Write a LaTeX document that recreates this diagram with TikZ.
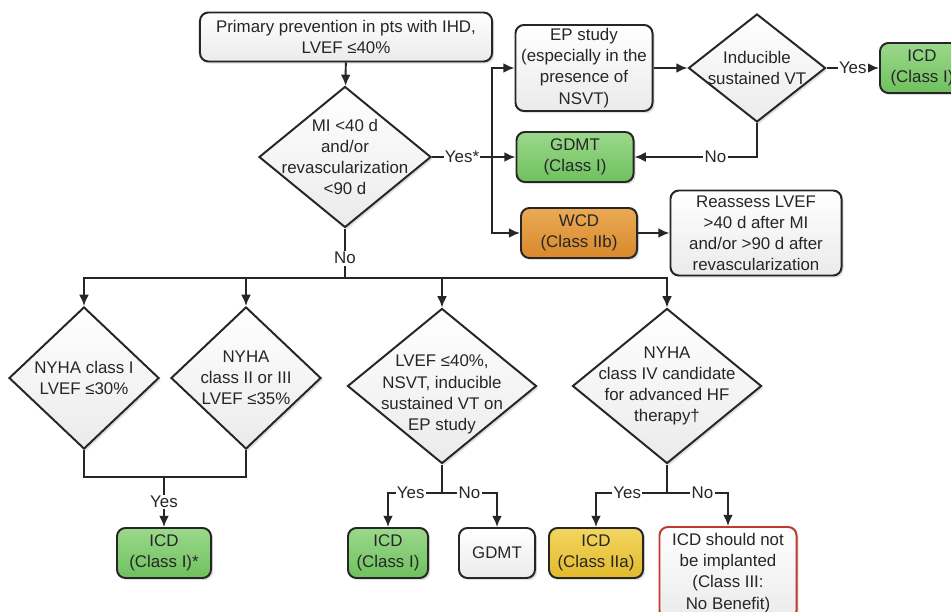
\documentclass[tikz,border=0pt]{standalone}
\usepackage{fontspec}
\setmainfont{Liberation Sans}
\usetikzlibrary{shapes.geometric, arrows.meta, shadows}
\definecolor{grnT}{HTML}{9BD98B}
\definecolor{grnB}{HTML}{6FC05E}
\definecolor{orgT}{HTML}{EBAA55}
\definecolor{orgB}{HTML}{D8892B}
\definecolor{ylwT}{HTML}{F3D661}
\definecolor{ylwB}{HTML}{E2B92B}
\definecolor{redC}{HTML}{BF3A2B}

\begin{document}
\begin{tikzpicture}[x=0.025cm, y=-0.025cm, font=\fontsize{12}{15}\selectfont,
    line width=1.4pt, black!85,
    box/.style={rectangle, rounded corners=6pt, draw, align=center, inner sep=2pt,
        top color=white, bottom color=gray!16,
        drop shadow={opacity=0.25, shadow xshift=1.5pt, shadow yshift=-1.5pt}},
    greenbox/.style={box, top color=grnT, bottom color=grnB},
    orangebox/.style={box, top color=orgT, bottom color=orgB},
    yellowbox/.style={box, top color=ylwT, bottom color=ylwB},
    decision/.style={diamond, draw, inner sep=0pt, top color=white, bottom color=gray!16,
        drop shadow={opacity=0.25, shadow xshift=1.5pt, shadow yshift=-1.5pt}},
    arr/.style={-{Latex[length=8pt,width=7pt]}},
    lbl/.style={fill=white, inner sep=1pt}]
    \useasboundingbox (0,0) rectangle (951,611);

    \node[box, minimum width=7.3cm, minimum height=1.225cm] (prim) at (346,37)
        {Primary prevention in pts with IHD,\\LVEF ≤40\%};
    \node[decision, minimum width=4.3cm, minimum height=3.525cm,
        label={[align=center]center:MI <40 d\\and/or\\revascularization\\<90 d}] (dec1) at (345,157) {};
    \node[box, minimum width=3.425cm, minimum height=2.15cm] (ep) at (584,68)
        {EP study\\(especially in the\\presence of\\NSVT)};
    \node[decision, minimum width=3.425cm, minimum height=2.7cm,
        label={[align=center]center:Inducible\\sustained VT}] (dec2) at (757,68) {};
    \node[greenbox, minimum width=2.1cm, minimum height=1.25cm] (icd1) at (922,68) {ICD\\(Class I)};
    \node[greenbox, minimum width=2.925cm, minimum height=1.25cm] (gdmt1) at (575,157) {GDMT\\(Class I)};
    \node[orangebox, minimum width=2.9cm, minimum height=1.25cm] (wcd) at (579,233) {WCD\\(Class IIb)};
    \node[box, minimum width=4.275cm, minimum height=2.125cm] (reas) at (756,233)
        {Reassess LVEF\\>40 d after MI\\and/or >90 d after\\revascularization};

    \node[decision, minimum width=3.75cm, minimum height=3.55cm,
        label={[align=center]center:NYHA class I\\LVEF ≤30\%}] (dA) at (84,378) {};
    \node[decision, minimum width=3.75cm, minimum height=3.55cm,
        label={[align=center]center:NYHA\\class II or III\\LVEF ≤35\%}] (dB) at (246,378) {};
    \node[decision, minimum width=4.725cm, minimum height=3.875cm,
        label={[align=center, yshift=-6pt]center:LVEF ≤40\%,\\NSVT, inducible\\sustained VT on\\EP study}] (dC) at (442,386) {};
    \node[decision, minimum width=4.725cm, minimum height=3.875cm,
        label={[align=center]center:NYHA\\class IV candidate\\for advanced HF\\therapy†}] (dD) at (667,386) {};

    \node[greenbox, minimum width=2.35cm, minimum height=1.25cm] (icdA) at (164,553) {ICD\\(Class I)*};
    \node[greenbox, minimum width=2cm, minimum height=1.25cm] (icdC) at (388,553) {ICD\\(Class I)};
    \node[box, minimum width=1.9cm, minimum height=1.25cm] (gdmtC) at (497,553) {GDMT};
    \node[yellowbox, minimum width=2.35cm, minimum height=1.25cm] (icdD) at (596,553) {ICD\\(Class IIa)};
    \node[box, draw=redC, minimum width=3.425cm, minimum height=2.3cm] (noicd) at (728,573)
        {ICD should not\\be implanted\\(Class III:\\No Benefit)};

    \coordinate (trunk) at (492,157);
    \coordinate (bus) at (345,278);
    \coordinate (joinAB) at (164,477);
    \coordinate (splitC) at (442,493);
    \coordinate (splitD) at (667,493);

    \draw[arr] (prim) -- (dec1);
    \draw (dec1) -- node[lbl]{Yes*} (trunk);
    \draw[arr] (trunk) |- (ep);
    \draw[arr] (trunk) -- (gdmt1);
    \draw[arr] (trunk) |- (wcd);
    \draw[arr] (ep) -- (dec2);
    \draw[arr] (dec2) -- node[lbl]{Yes} (icd1);
    \draw[arr] (dec2.south) |- node[lbl, pos=0.67]{No} (gdmt1);
    \draw[arr] (wcd) -- (reas);

    \draw (dec1) -- node[lbl, pos=0.6]{No} (bus);
    \foreach \d in {dA,dB,dC,dD}
        \draw[arr] (bus) -| (\d);

    \draw (dA) |- (joinAB);
    \draw (dB) |- (joinAB);
    \draw[arr] (joinAB) -- node[lbl]{Yes} (icdA);

    \draw (dC) -- (splitC);
    \draw[arr] (splitC) -| node[lbl, pos=0.29]{Yes} (icdC);
    \draw[arr] (splitC) -| node[lbl, pos=0.25]{No} (gdmtC);

    \draw (dD) -- (splitD);
    \draw[arr] (splitD) -| node[lbl, pos=0.28]{Yes} (icdD);
    \draw[arr] (splitD) -| node[lbl, pos=0.29]{No} (noicd);
\end{tikzpicture}
\end{document}
